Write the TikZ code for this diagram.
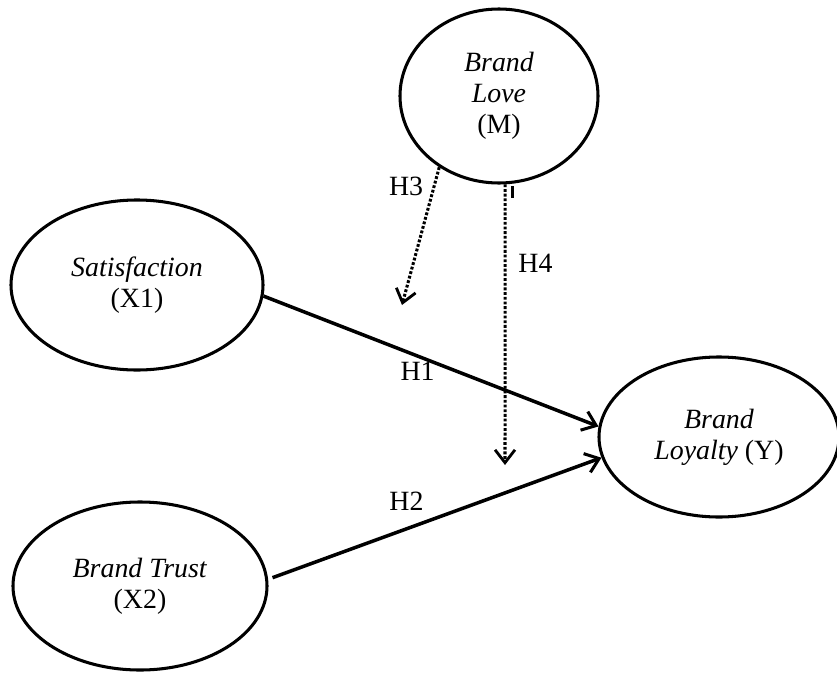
\documentclass[tikz,border=0pt]{standalone}
\usepackage{fontspec}
\setmainfont{Liberation Serif}
\usetikzlibrary{shapes.geometric, arrows.meta, calc}

\begin{document}
\begin{tikzpicture}[x=0.03cm, y=-0.03cm,
          construct/.style={ellipse, draw, line width=2.6pt, inner sep=0pt,
                            align=center, font=\fontsize{23.8}{26.5}\selectfont},
          arr/.style={-{Straight Barb[length=11pt, width=17pt, line width=2.6pt]},
                      line width=3pt},
          mod/.style={-{Straight Barb[length=11pt, width=17pt, line width=2.4pt]},
                      line width=2.6pt, dash pattern=on 2.4pt off 1.6pt},
          hlab/.style={font=\fontsize{23.8}{26.5}\selectfont, inner sep=0pt}
        ]
        \useasboundingbox (0,0) rectangle (837,673);

        \node[construct, minimum width=5.94cm, minimum height=5.22cm] (love) at (499,96)
              {\textit{Brand}\\ \textit{Love}\\ (M)};
        \node[construct, minimum width=7.56cm, minimum height=5.1cm] (sat) at (137,285)
              {\textit{Satisfaction}\\ (X1)};
        \node[construct, minimum width=7.62cm, minimum height=5.04cm] (trust) at (140,586)
              {\textit{Brand Trust}\\ (X2)};
        \node[construct, minimum width=7.2cm, minimum height=4.8cm] (loy) at (719,437)
              {\textit{Brand}\\ \textit{Loyalty} (Y)};

        \coordinate (h3end) at (402,305);
        \coordinate (h4end) at (505,465);

        % Direct effects
        \draw[arr] (sat.-5) -- node[pos=0.46, below=4pt, hlab]{H1} (loy.175);
        \draw[arr, shorten <=4pt] (trust.3) -- node[pos=0.415, above=14pt, hlab]{H2} (loy.190);

        % Moderation
        \draw[mod] (love.230) -- node[pos=0.14, left=8pt, hlab]{H3} (h3end);
        \draw[mod] (love.-86) -- node[pos=0.28, right=10pt, hlab]{H4} (h4end);
        \draw[line width=2.4pt] ($(love.-86)+(7,2)$) -- ++(0,12);
      \end{tikzpicture}
\end{document}
